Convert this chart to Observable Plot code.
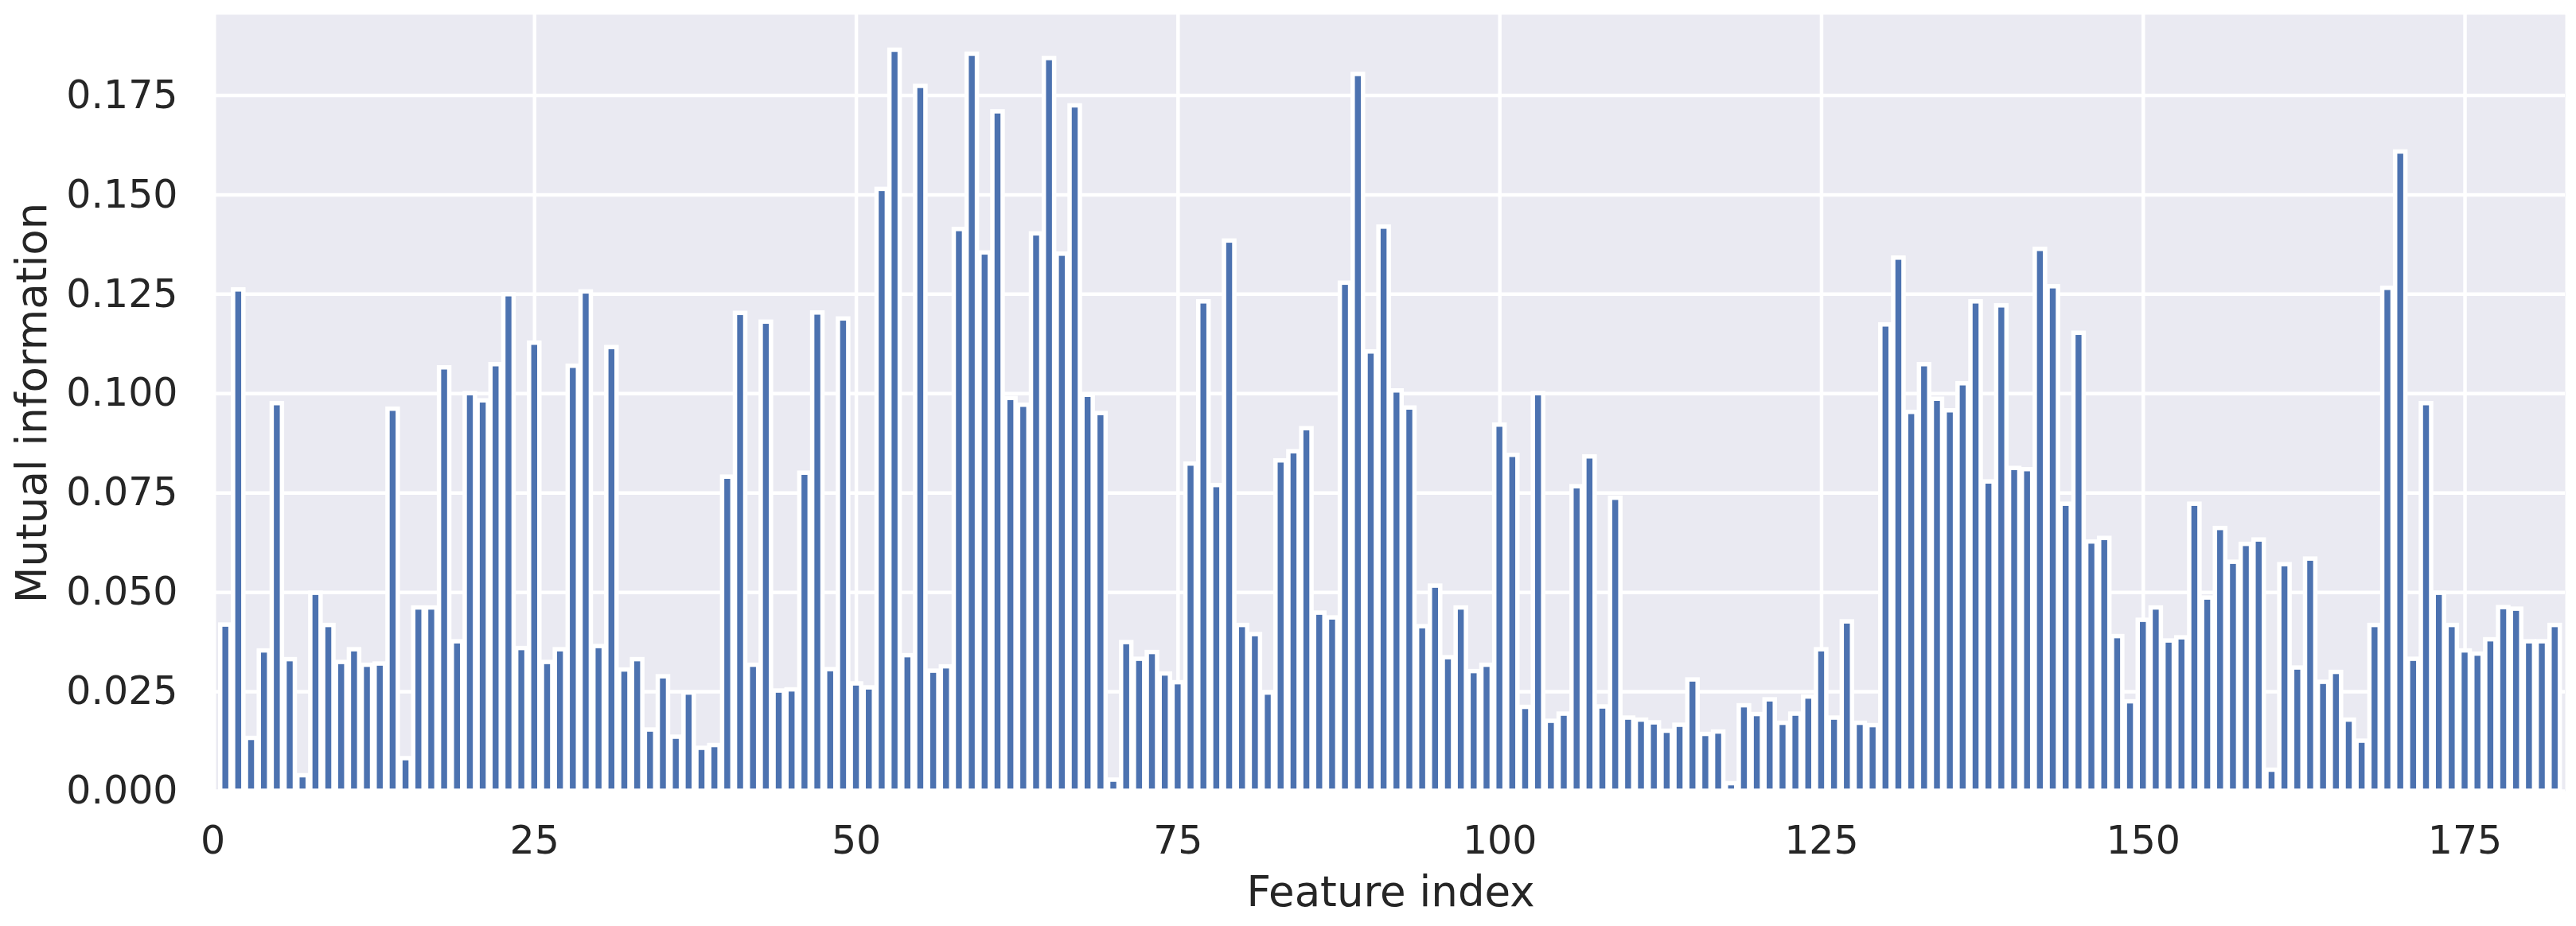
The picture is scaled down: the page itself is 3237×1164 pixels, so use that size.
<!DOCTYPE html>
<html>
<head>
<meta charset="utf-8">
<script src="https://cdn.jsdelivr.net/npm/d3@7"></script>
<script src="https://cdn.jsdelivr.net/npm/@observablehq/plot@0.6"></script>
<style>
  html, body { margin: 0; padding: 0; background: white; }
</style>
</head>
<body>
<div id="chart"></div>
<script>
// Mutual information per feature, features 1..182
const miValues = [
  0.0418, 0.1261, 0.0133, 0.0353, 0.0975, 0.0331, 0.0039, 0.0498, 0.0417, 0.0324,
  0.0356, 0.0317, 0.0320, 0.0961, 0.0082, 0.0461, 0.0461, 0.1065, 0.0376, 0.1000,
  0.0982, 0.1073, 0.1249, 0.0359, 0.1127, 0.0324, 0.0356, 0.1069, 0.1256, 0.0364,
  0.1116, 0.0305, 0.0331, 0.0154, 0.0288, 0.0136, 0.0247, 0.0108, 0.0115, 0.0790,
  0.1202, 0.0317, 0.1180, 0.0252, 0.0255, 0.0800, 0.1203, 0.0306, 0.1188, 0.0270,
  0.0260, 0.1514, 0.1864, 0.0341, 0.1773, 0.0302, 0.0313, 0.1413, 0.1854, 0.1354,
  0.1709, 0.0988, 0.0971, 0.1402, 0.1843, 0.1351, 0.1724, 0.0996, 0.0950, 0.0028,
  0.0374, 0.0332, 0.0349, 0.0295, 0.0273, 0.0823, 0.1231, 0.0769, 0.1384, 0.0417,
  0.0394, 0.0247, 0.0831, 0.0854, 0.0912, 0.0448, 0.0436, 0.1278, 0.1803, 0.1105,
  0.1419, 0.1007, 0.0964, 0.0414, 0.0516, 0.0336, 0.0461, 0.0301, 0.0317, 0.0921,
  0.0845, 0.0211, 0.1000, 0.0176, 0.0194, 0.0766, 0.0841, 0.0212, 0.0737, 0.0184,
  0.0179, 0.0172, 0.0151, 0.0166, 0.0280, 0.0143, 0.0149, 0.0019, 0.0215, 0.0193,
  0.0230, 0.0171, 0.0194, 0.0237, 0.0356, 0.0184, 0.0426, 0.0171, 0.0165, 0.1173,
  0.1341, 0.0953, 0.1073, 0.0986, 0.0957, 0.1025, 0.1231, 0.0778, 0.1221, 0.0812,
  0.0809, 0.1363, 0.1269, 0.0722, 0.1152, 0.0627, 0.0636, 0.0389, 0.0225, 0.0430,
  0.0461, 0.0378, 0.0386, 0.0722, 0.0486, 0.0661, 0.0576, 0.0621, 0.0632, 0.0053,
  0.0570, 0.0310, 0.0584, 0.0274, 0.0299, 0.0179, 0.0126, 0.0417, 0.1265, 0.1608,
  0.0332, 0.0975, 0.0498, 0.0417, 0.0353, 0.0345, 0.0381, 0.0462, 0.0458, 0.0376,
  0.0376, 0.0417
];
const firstFeature = 1;
const xTicks = [0, 25, 50, 75, 100, 125, 150, 175];
const yTicks = [0, 0.025, 0.05, 0.075, 0.1, 0.125, 0.15, 0.175];
const xLabel = "Feature index";
const yLabel = "Mutual information";

const bars = miValues.map((v, i) => ({feature: firstFeature + i, mi: v}));
const barWidth = 0.8;

const chart = Plot.plot({
  width: 3237,
  height: 1164,
  marginLeft: 271,
  marginRight: 14,
  marginTop: 18,
  marginBottom: 170,
  x: {type: "linear", domain: [0.247, 182.79]},
  y: {domain: [0, 0.1953]},
  style: {fontFamily: "'DejaVu Sans', sans-serif", background: "white", color: "#262626"},
  marks: [
    Plot.frame({fill: "#eaeaf2", stroke: "none"}),
    Plot.gridY(yTicks, {stroke: "white", strokeOpacity: 1, strokeWidth: 4.5}),
    Plot.gridX(xTicks.filter(t => t > 0), {stroke: "white", strokeOpacity: 1, strokeWidth: 4.5}),
    Plot.rect(bars, {
      x1: d => d.feature - barWidth / 2,
      x2: d => d.feature + barWidth / 2,
      y1: 0,
      y2: "mi",
      fill: "#4c72b0",
      stroke: "white",
      strokeWidth: 5.5
    }),
    Plot.axisX(xTicks, {tickSize: 0, tickPadding: 44, fontSize: 49, label: null}),
    Plot.axisY(yTicks, {tickSize: 0, tickPadding: 48, fontSize: 49, tickFormat: d3.format(".3f"), label: null}),
    Plot.text([yLabel], {frameAnchor: "left", rotate: -90, dx: -230, fontSize: 53, textAnchor: "middle", lineAnchor: "middle"}),
    Plot.text([xLabel], {frameAnchor: "bottom", dy: 107, fontSize: 53, lineAnchor: "top"})
  ]
});
document.getElementById("chart").appendChild(chart);
</script>
</body>
</html>
